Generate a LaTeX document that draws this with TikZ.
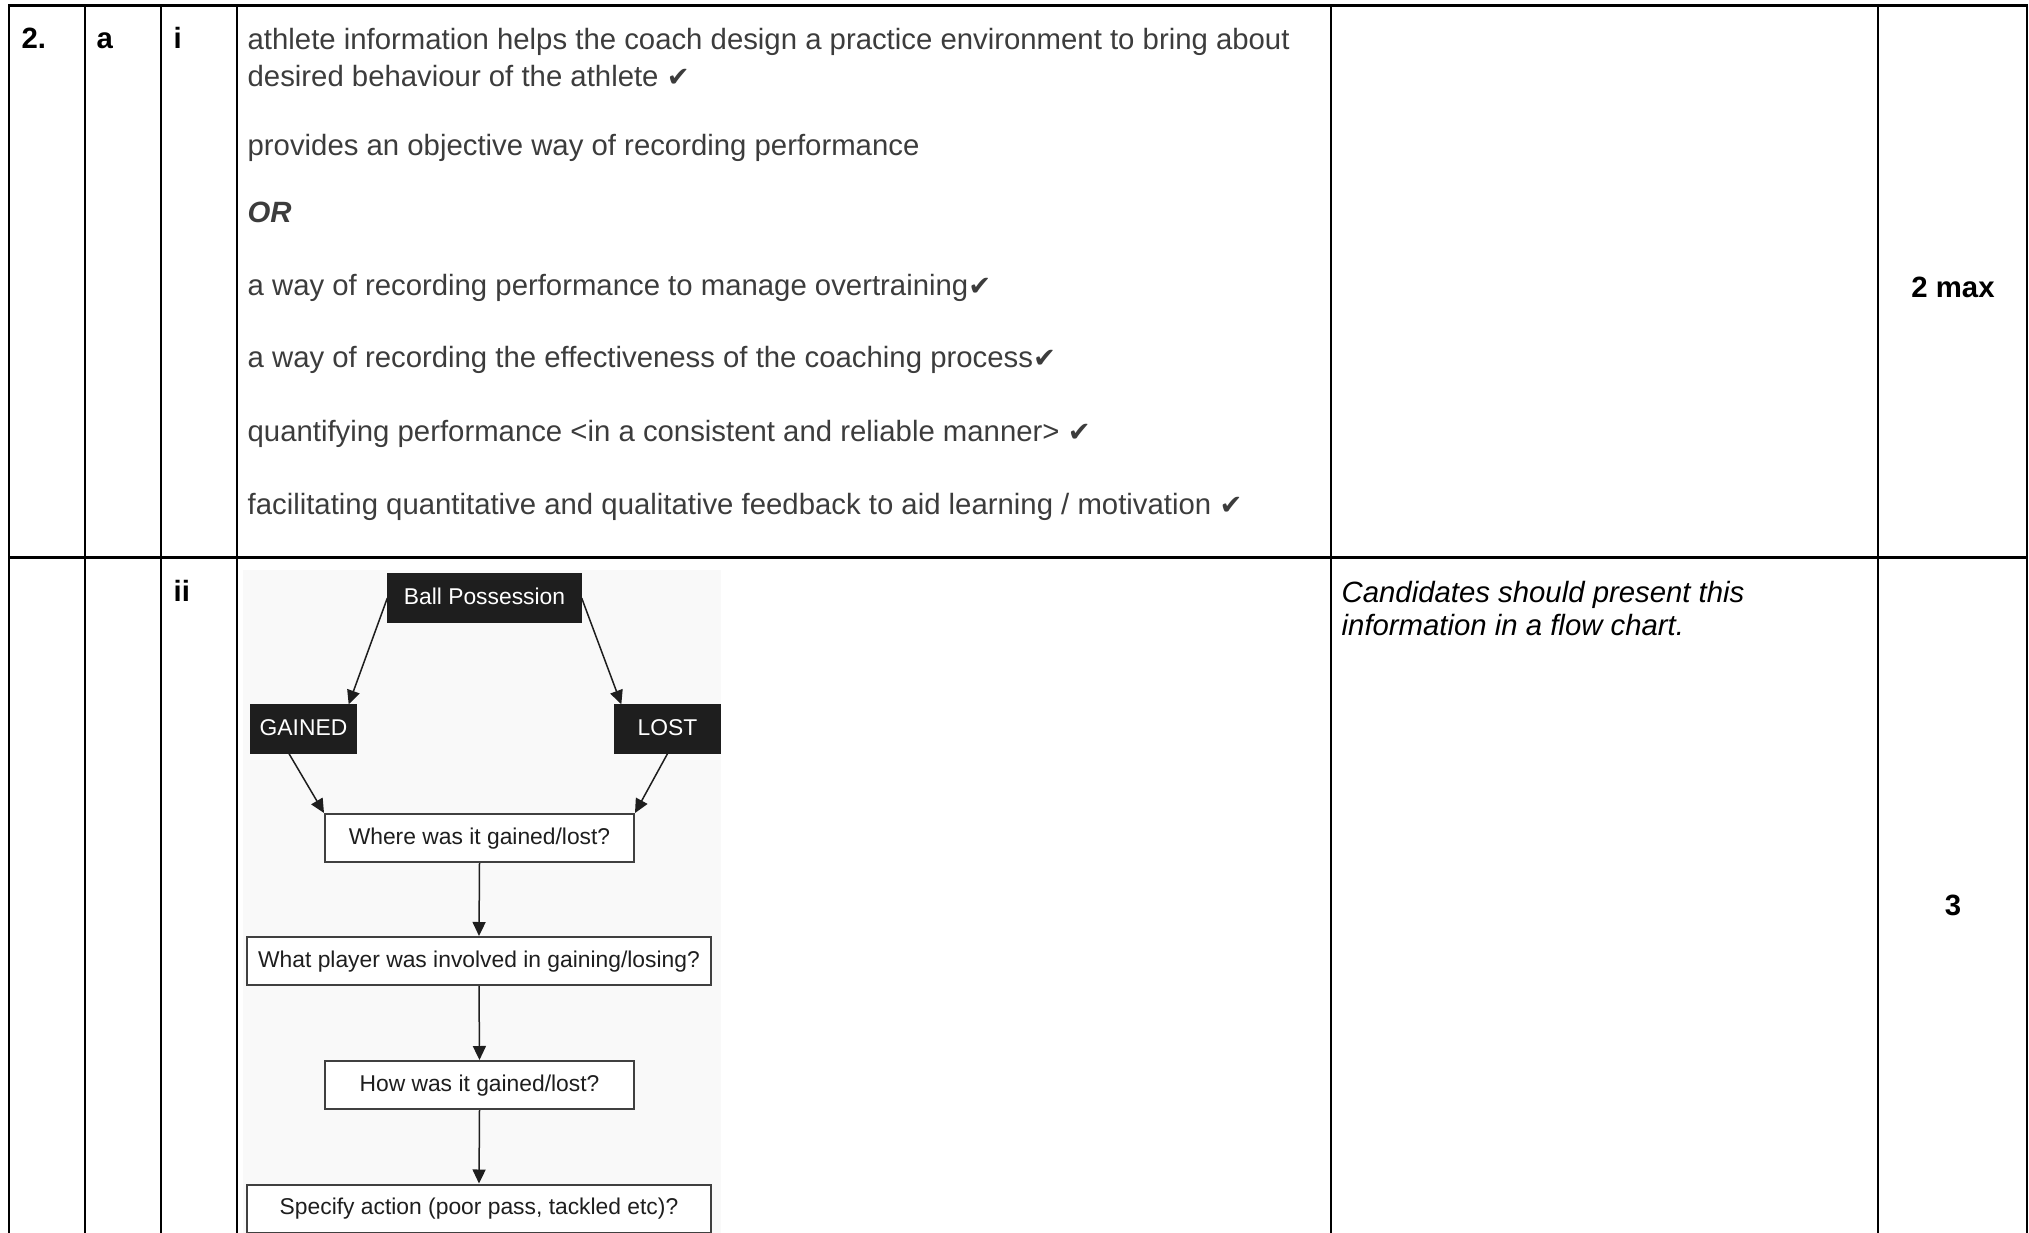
\documentclass[tikz,border=0pt]{standalone}
\usepackage{fontspec}
\setmainfont{Liberation Sans}
\newfontfamily\ticksym{DejaVu Sans}
\usetikzlibrary{arrows.meta}
\definecolor{bodygrey}{HTML}{3C3C3C}
\definecolor{chartbg}{HTML}{F9F9F9}
\definecolor{chartink}{HTML}{1E1E1E}
\newcommand{\tick}{{\ticksym\fontsize{8.2}{10}\selectfont ✔}}

\begin{document}
\begin{tikzpicture}[x=0.3pt, y=-0.3pt,
    vrule/.style = {draw = black, line width = 0.6pt},
    hrule/.style = {draw = black, line width = 0.9pt},
    answer/.style = {anchor = base west, inner sep = 0pt, text = bodygrey, font = \fontsize{8.8}{10}\selectfont},
    partlabel/.style = {anchor = base west, inner sep = 0pt, font = \fontsize{8.8}{10}\selectfont\bfseries},
    marks/.style = {anchor = base, inner sep = 0pt, font = \fontsize{8.8}{10}\selectfont\bfseries},
    guidance/.style = {anchor = base west, inner sep = 0pt, font = \fontsize{8.8}{10}\selectfont\itshape},
    darkbox/.style = {fill = chartink, draw = chartink, text = white, inner sep = 0pt, minimum height = 14.4pt, text height = 5pt, text depth = 1.4pt, font = \fontsize{6.85}{8}\selectfont},
    lightbox/.style = {fill = white, draw = chartink!85, line width = 0.6pt, text = chartink, inner sep = 0pt, minimum height = 14.4pt, text height = 5pt, text depth = 1.4pt, font = \fontsize{6.85}{8}\selectfont},
    flow/.style = {draw = chartink, line width = 0.45pt, -{Triangle[length = 4.2pt, width = 3.9pt]}}]
    \useasboundingbox (0,0) rectangle (2029,1233);

%% table rules
    \draw[hrule] (8,6) -- (2028,6);
    \draw[hrule] (8,557) -- (2028,557);
    \foreach \x in {9,85,161,237,1331,1878,2027}
        \draw[vrule] (\x,6) -- (\x,1233);

%% part a i
    \node[partlabel] (qnum) at (21,49) {2.};
    \node[partlabel] (parta) at (96,49) {a};
    \node[partlabel] (parti) at (173,49) {i};
    \node[answer] (ansone) at (247,50) {athlete information helps the coach design a practice environment to bring about};
    \node[answer] (ansonecont) at (247,87) {desired behaviour of the athlete \tick};
    \node[answer] (anstwo) at (247,156) {provides an objective way of recording performance};
    \node[answer, font = \fontsize{8.8}{10}\selectfont\bfseries\itshape] (orword) at (247,223) {OR};
    \node[answer] (ansthree) at (247,296) {a way of recording performance to manage overtraining\tick};
    \node[answer] (ansfour) at (247,368) {a way of recording the effectiveness of the coaching process\tick};
    \node[answer] (ansfive) at (247,441) {quantifying performance <in a consistent and reliable manner> \tick};
    \node[answer] (anssix) at (247,514) {facilitating quantitative and qualitative feedback to aid learning / motivation \tick};
    \node[marks] (markone) at (1953,298) {2 max};

%% part a ii
    \node[partlabel] (partii) at (173,601) {ii};
    \node[guidance] (noteone) at (1341,602) {Candidates should present this};
    \node[guidance] (notetwo) at (1341,635) {information in a flow chart.};
    \node[marks] (marktwo) at (1953,915) {3};

%% flow chart
    \fill[chartbg] (243,570) rectangle (721,1233);
    \node[darkbox, minimum width = 57.9pt] (ball) at (484.5,598) {Ball Possession};
    \node[darkbox, minimum width = 31.5pt] (gained) at (303.5,729) {GAINED};
    \node[darkbox, minimum width = 31.5pt] (lost) at (667.5,729) {LOST};
    \node[lightbox, minimum width = 92.7pt] (where) at (479.5,838) {Where was it gained/lost?};
    \node[lightbox, minimum width = 139.2pt] (player) at (479,961) {What player was involved in gaining/losing?};
    \node[lightbox, minimum width = 92.7pt] (how) at (479.5,1085) {How was it gained/lost?};
    \node[lightbox, minimum width = 139.2pt] (action) at (479,1208.5) {Specify action (poor pass, tackled etc)?};

    \draw[flow] (ball.west) -- ([xshift = -2.4pt]gained.north east);
    \draw[flow] (ball.east) -- ([xshift = 2.1pt]lost.north west);
    \draw[flow] ([xshift = -4.35pt]gained.south) -- (where.north west);
    \draw[flow] (lost.south) -- (where.north east);
    \draw[flow] (where.south) -- (player.north);
    \draw[flow] (player.south) -- (how.north);
    \draw[flow] (how.south) -- (action.north);
\end{tikzpicture}
\end{document}
